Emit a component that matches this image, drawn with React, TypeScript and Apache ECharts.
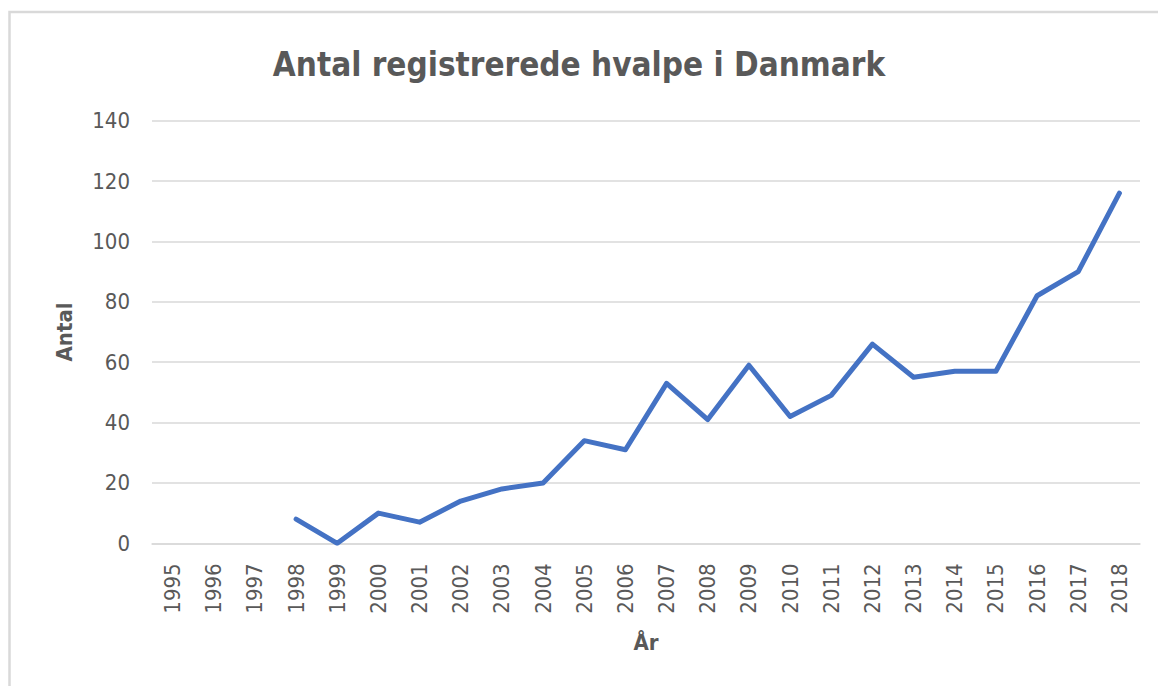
import React, { useEffect, useRef } from "react";
import * as echarts from "echarts";

const years = ["1995","1996","1997","1998","1999","2000","2001","2002","2003","2004","2005","2006","2007","2008","2009","2010","2011","2012","2013","2014","2015","2016","2017","2018"];
const puppies: (number | null)[] = [null, null, null, 8, 0, 10, 7, 14, 18, 20, 34, 31, 53, 41, 59, 42, 49, 66, 55, 57, 57, 82, 90, 116];
const yTicks = { min: 0, max: 140, interval: 20 };

const FONT = "'DejaVu Sans Condensed', 'Open Sans', sans-serif";

export default function App() {
  const ref = useRef<HTMLDivElement>(null);
  useEffect(() => {
    if (!ref.current) return;
    const chart = echarts.init(ref.current, null, { renderer: "svg" });
    chart.setOption({
      animation: false,
      backgroundColor: "#ffffff",
      title: {
        text: "Antal registrerede hvalpe i Danmark",
        left: "center",
        top: 43,
        textStyle: { fontFamily: FONT, fontSize: 33, fontWeight: "bold", color: "#595959" },
      },
      graphic: [
        {
          type: "rect",
          shape: { x: 9.5, y: 12, width: 1200, height: 700 },
          style: { fill: "none", stroke: "#d9d9d9", lineWidth: 2.5 },
          silent: true,
        },
      ],
      grid: { left: 152, right: 18, top: 120.7, bottom: 686 - 543.3, containLabel: false },
      xAxis: {
        type: "category",
        data: years,
        boundaryGap: true,
        name: "År",
        nameLocation: "middle",
        nameGap: 88,
        nameTextStyle: { fontFamily: FONT, fontSize: 22, fontWeight: "bold", color: "#595959" },
        axisLine: { show: true, lineStyle: { color: "#d9d9d9", width: 1.5 } },
        axisTick: { show: false },
        axisLabel: { rotate: 90, interval: 0, margin: 20, fontFamily: FONT, fontSize: 22, color: "#595959" },
        splitLine: { show: false },
      },
      yAxis: {
        type: "value",
        min: yTicks.min,
        max: yTicks.max,
        interval: yTicks.interval,
        name: "Antal",
        nameLocation: "middle",
        nameGap: 77,
        nameTextStyle: { fontFamily: FONT, fontSize: 22, fontWeight: "bold", color: "#595959" },
        axisLine: { show: false },
        axisTick: { show: false },
        axisLabel: { margin: 22, fontFamily: FONT, fontSize: 22, color: "#595959" },
        splitLine: { show: true, lineStyle: { color: "#d9d9d9", width: 1.5 } },
      },
      series: [
        {
          type: "line",
          data: puppies,
          showSymbol: false,
          symbol: "none",
          connectNulls: false,
          lineStyle: { color: "#4472C4", width: 5, join: "round", cap: "round" },
          itemStyle: { color: "#4472C4" },
        },
      ],
    });
    return () => chart.dispose();
  }, []);
  return <div ref={ref} style={{ position: "fixed", left: 0, top: 0, width: 1158, height: 686 }} />;
}
